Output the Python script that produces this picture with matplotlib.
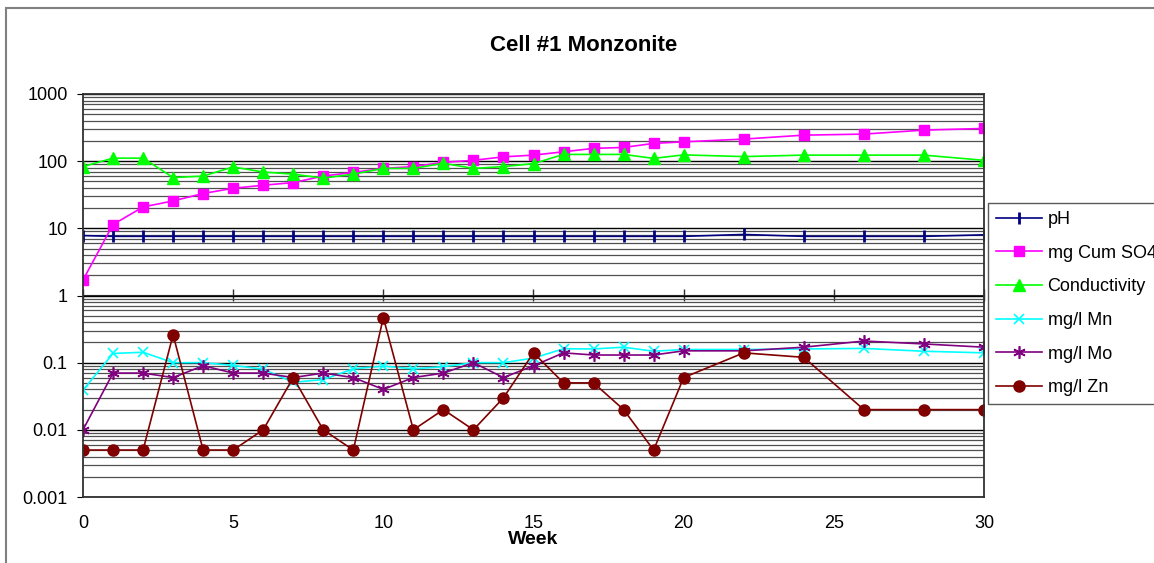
import matplotlib
matplotlib.use("Agg")
import matplotlib.pyplot as plt
from matplotlib.patches import Rectangle
from matplotlib.ticker import LogLocator, NullFormatter, FixedLocator

plt.rcParams['font.family'] = ['Liberation Sans', 'DejaVu Sans']

weeks = [0, 1, 2, 3, 4, 5, 6, 7, 8, 9, 10, 11, 12, 13, 14, 15, 16, 17, 18, 19, 20,
         22, 24, 26, 28, 30]

ph = [7.8, 7.6, 7.6, 7.6, 7.6, 7.6, 7.6, 7.6, 7.6, 7.6, 7.6, 7.6, 7.6, 7.6, 7.6,
      7.6, 7.6, 7.6, 7.6, 7.6, 7.6, 8.1, 7.6, 7.6, 7.6, 8.0]
so4 = [1.7, 11.4, 20.8, 25.6, 33, 39.5, 43.8, 48, 60, 68, 78, 83, 96, 103, 116,
       123, 138, 155, 160, 184, 194, 213, 244, 253, 290, 307]
conductivity = [83, 111, 111, 57, 60, 82, 69, 64, 56, 64, 78, 78, 93, 78, 83,
                92, 126, 126, 126, 110, 124, 117, 123, 123, 123, 103]
mn = [0.039, 0.137, 0.143, 0.1, 0.1, 0.091, 0.08, 0.051, 0.056, 0.081, 0.089,
      0.081, 0.087, 0.1, 0.1, 0.117, 0.161, 0.16, 0.17, 0.148, 0.157, 0.157,
      0.16, 0.163, 0.148, 0.14]
mo = [0.01, 0.07, 0.07, 0.06, 0.09, 0.07, 0.07, 0.06, 0.07, 0.06, 0.04, 0.06,
      0.07, 0.1, 0.06, 0.09, 0.14, 0.13, 0.13, 0.13, 0.15, 0.15, 0.17, 0.21,
      0.19, 0.17]
zn = [0.005, 0.005, 0.005, 0.26, 0.005, 0.005, 0.01, 0.06, 0.01, 0.005, 0.47,
      0.01, 0.02, 0.01, 0.03, 0.14, 0.05, 0.05, 0.02, 0.005, 0.06, 0.14, 0.12,
      0.02, 0.02, 0.02]

fig = plt.figure(figsize=(11.54, 5.63), dpi=100)
ax = fig.add_axes([83 / 1154, 1 - 497 / 563, 901 / 1154, 403 / 563])

# outer chart frame
fig.add_artist(Rectangle((6 / 1154, -0.1), 1.2, 1.1 - 8 / 563, transform=fig.transFigure,
                         fill=False, edgecolor='#808080', lw=1.5))

ax.plot(weeks, ph, color='#000080', lw=1.2, marker='|', ms=9, mew=2, label='pH')
ax.plot(weeks, so4, color='#ff00ff', lw=1.2, marker='s', ms=7.5, label='mg Cum SO4')
ax.plot(weeks, conductivity, color='#00ff00', lw=1.2, marker='^', ms=8.5, label='Conductivity')
ax.plot(weeks, mn, color='#00ffff', lw=1.2, marker='x', ms=7, mew=1.2, label='mg/l Mn')
ax.plot(weeks, mo, color='#800080', lw=1.2, marker=(6, 2, 0), ms=9, mew=1.2, label='mg/l Mo')
ax.plot(weeks, zn, color='#800000', lw=1.2, marker='o', ms=8, label='mg/l Zn')

ax.set_yscale('log')
ax.set_ylim(0.001, 1000)
ax.set_xlim(0, 30)

ax.yaxis.set_major_locator(FixedLocator([0.001, 0.01, 0.1, 1, 10, 100, 1000]))
ax.set_yticklabels(['0.001', '0.01', '0.1', '1', '10', '100', '1000'])
ax.yaxis.set_minor_locator(LogLocator(base=10, subs=range(2, 10)))
ax.yaxis.set_minor_formatter(NullFormatter())
ax.tick_params(axis='y', which='major', length=4.5, direction='out', pad=6.5, labelsize=13)
ax.tick_params(axis='y', which='minor', length=0)
ax.grid(True, which='major', axis='y', color='black', lw=1.0)
ax.grid(True, which='minor', axis='y', color='#505050', lw=0.9)
ax.set_axisbelow(True)

ax.set_xticks([0, 5, 10, 15, 20, 25, 30])
ax.tick_params(axis='x', length=0, pad=13, labelsize=13)

# x axis crosses at y = 1
cross = ax.secondary_xaxis(0.5)
cross.set_xticks([0, 5, 10, 15, 20, 25, 30])
cross.tick_params(axis='x', direction='inout', length=9, width=1, labelbottom=False,
                  labeltop=False, color='#303030')
cross.spines['top'].set_color('#303030')

for s in ax.spines.values():
    s.set_color('#303030')
    s.set_linewidth(1.3)

fig.text(584 / 1154, 1 - 45.5 / 563, 'Cell #1 Monzonite', fontsize=16,
         fontweight='bold', ha='center', va='center')
fig.text(533.5 / 1154, 1 - 539 / 563, 'Week', fontsize=14, fontweight='bold',
         ha='center', va='center')

ax.legend(loc='upper left', bbox_to_anchor=(988 / 1154, 1 - 203 / 563),
          bbox_transform=fig.transFigure, borderaxespad=0, frameon=True,
          fancybox=False, edgecolor='#303030', fontsize=13, handlelength=2.55,
          labelspacing=0.92, borderpad=0.45, handletextpad=0.3)

fig.savefig('out.png', dpi=100)
